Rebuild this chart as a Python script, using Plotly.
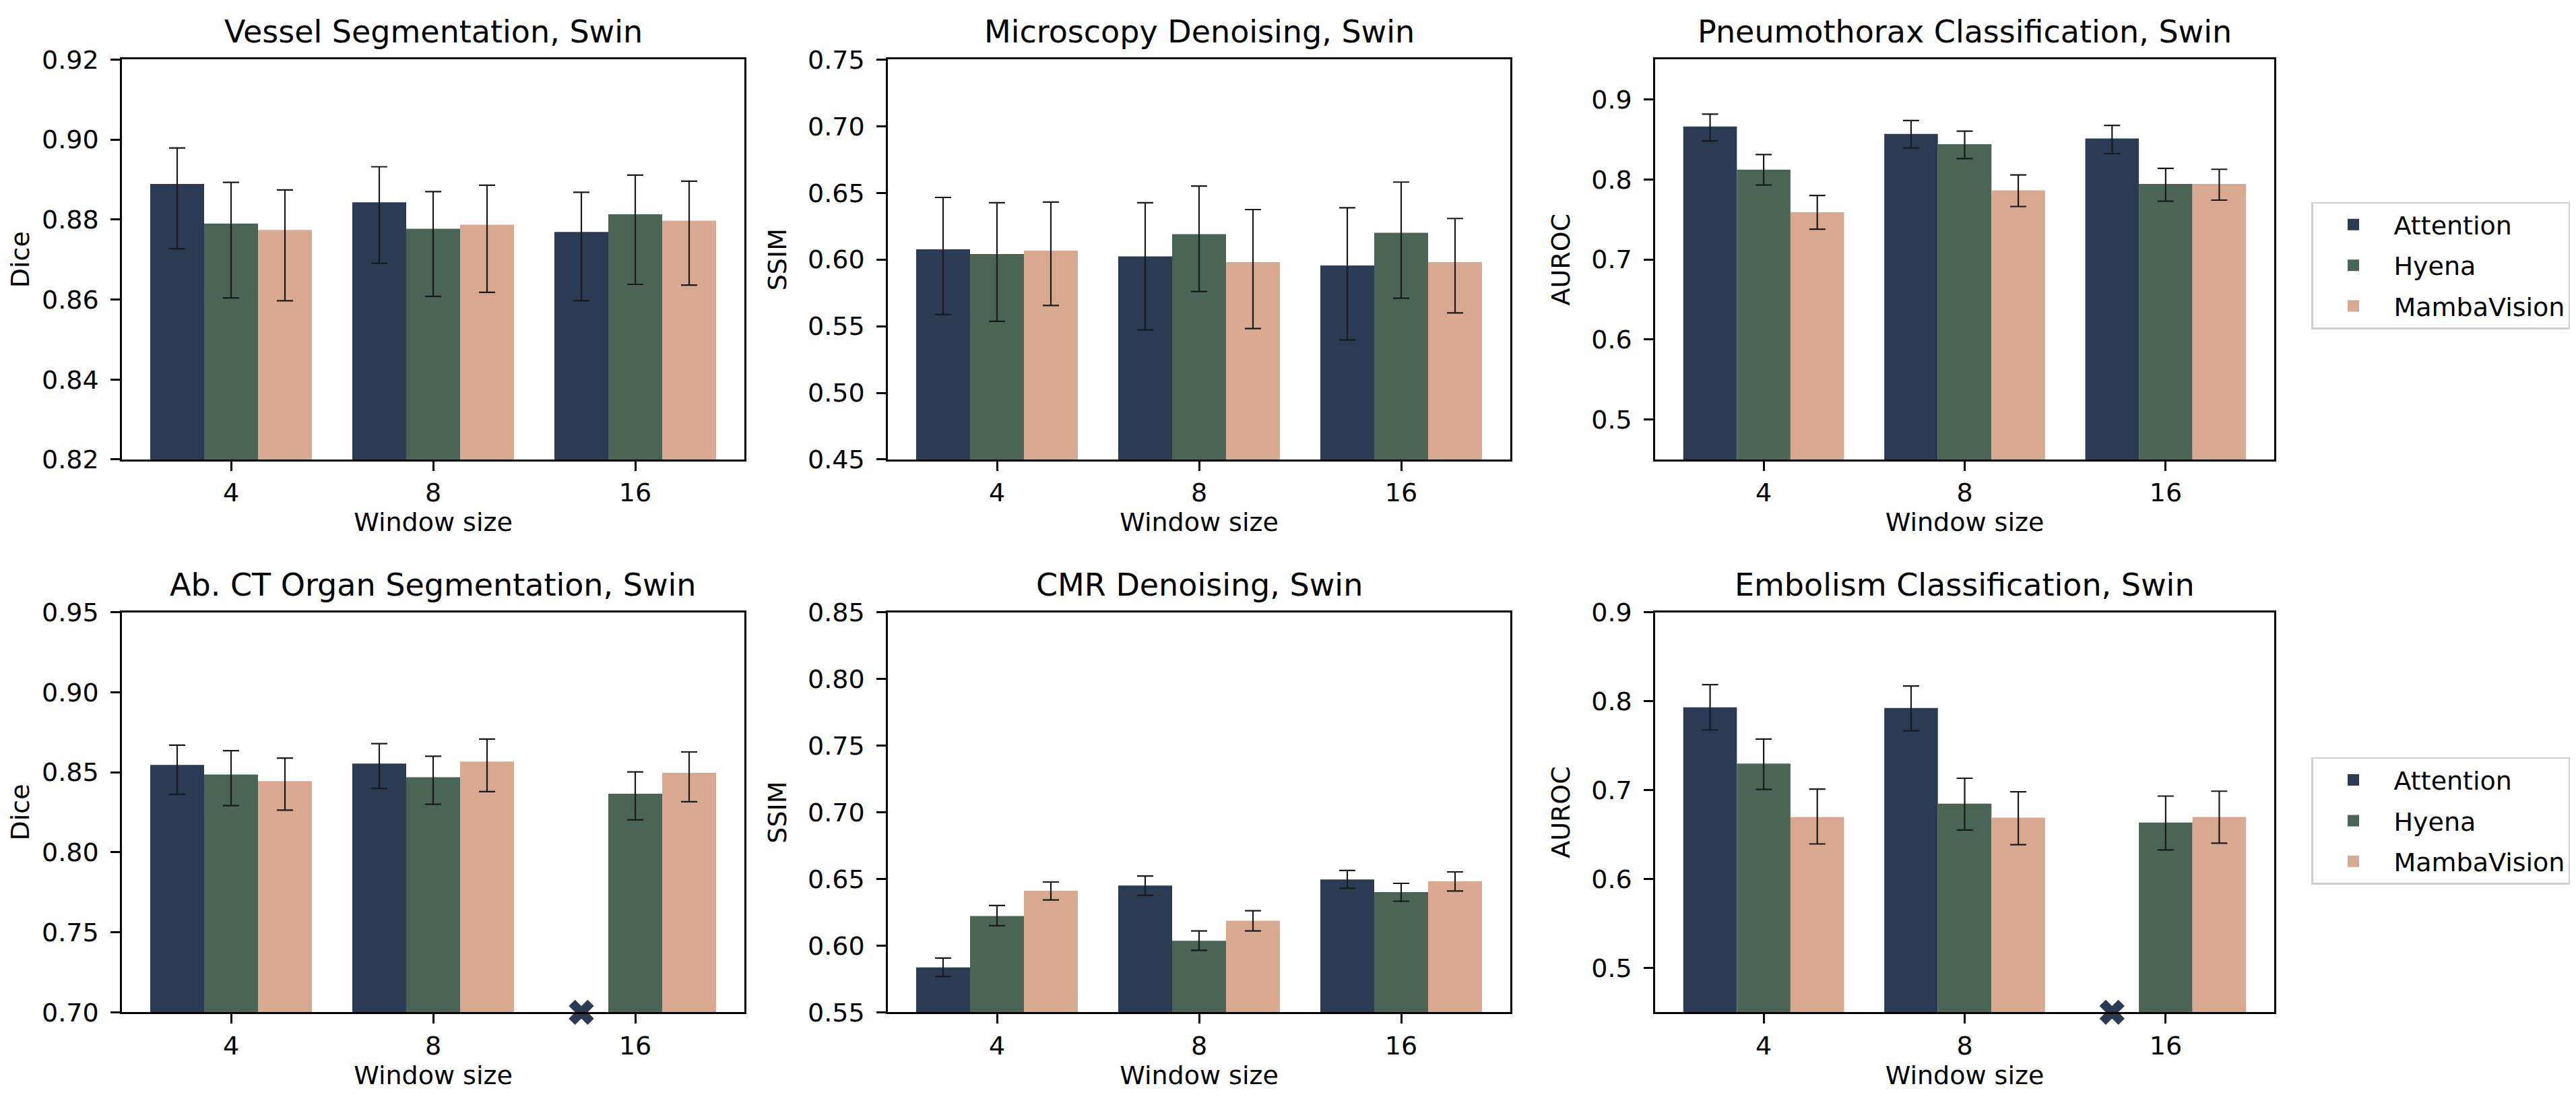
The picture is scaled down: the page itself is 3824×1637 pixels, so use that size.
import plotly.graph_objects as go

# ---------------- data ----------------
window_sizes = ["4", "8", "16"]
models = ["Attention", "Hyena", "MambaVision"]

panel_titles = [
    "Vessel Segmentation, Swin",
    "Microscopy Denoising, Swin",
    "Pneumothorax Classification, Swin",
    "Ab. CT Organ Segmentation, Swin",
    "CMR Denoising, Swin",
    "Embolism Classification, Swin",
]
y_titles = ["Dice", "SSIM", "AUROC", "Dice", "SSIM", "AUROC"]

# rows: Attention, Hyena, MambaVision; cols: window 4, 8, 16
vessel_mean = [[0.8889, 0.8843, 0.8769], [0.8790, 0.8777, 0.8813], [0.8774, 0.8787, 0.8797]]
vessel_lo = [[0.8727, 0.8691, 0.8597], [0.8604, 0.8608, 0.8638], [0.8597, 0.8618, 0.8636]]
vessel_hi = [[0.8979, 0.8932, 0.8868], [0.8893, 0.8870, 0.8911], [0.8874, 0.8886, 0.8896]]

micro_mean = [[0.6077, 0.6024, 0.5956], [0.6041, 0.6190, 0.6200], [0.6067, 0.5981, 0.5981]]
micro_lo = [[0.5587, 0.5472, 0.5396], [0.5537, 0.5760, 0.5710], [0.5655, 0.5482, 0.5600]]
micro_hi = [[0.6466, 0.6426, 0.6388], [0.6426, 0.6551, 0.6581], [0.6431, 0.6375, 0.6308]]

pneumo_mean = [[0.8663, 0.8571, 0.8513], [0.8123, 0.8441, 0.7944], [0.7592, 0.7864, 0.7944]]
pneumo_lo = [[0.8483, 0.8395, 0.8324], [0.7931, 0.8262, 0.7730], [0.7379, 0.7663, 0.7743]]
pneumo_hi = [[0.8818, 0.8738, 0.8676], [0.8312, 0.8605, 0.8140], [0.7801, 0.8057, 0.8128]]

abct_mean = [[0.8546, 0.8554, None], [0.8486, 0.8469, 0.8366], [0.8445, 0.8567, 0.8497]]
abct_lo = [[0.8362, 0.8399, None], [0.8292, 0.8300, 0.8202], [0.8263, 0.8379, 0.8316]]
abct_hi = [[0.8670, 0.8679, None], [0.8635, 0.8600, 0.8502], [0.8589, 0.8708, 0.8627]]

cmr_mean = [[0.5836, 0.6451, 0.6496], [0.6222, 0.6036, 0.6401], [0.6412, 0.6186, 0.6482]]
cmr_lo = [[0.5768, 0.6377, 0.6430], [0.6149, 0.5965, 0.6333], [0.6343, 0.6110, 0.6409]]
cmr_hi = [[0.5907, 0.6522, 0.6564], [0.6301, 0.6110, 0.6467], [0.6477, 0.6262, 0.6553]]

embol_mean = [[0.7931, 0.7923, None], [0.7298, 0.6846, 0.6634], [0.6697, 0.6689, 0.6697]]
embol_lo = [[0.7675, 0.7667, None], [0.7007, 0.6551, 0.6327], [0.6394, 0.6386, 0.6402]]
embol_hi = [[0.8186, 0.8171, None], [0.7573, 0.7133, 0.6932], [0.7011, 0.6980, 0.6987]]

y_ranges = [[0.82, 0.92], [0.45, 0.75], [0.45, 0.95], [0.70, 0.95], [0.55, 0.85], [0.45, 0.90]]
y_dticks = [0.02, 0.05, 0.1, 0.05, 0.05, 0.1]
y_formats = [".2f", ".2f", ".1f", ".2f", ".2f", ".1f"]

# runs that failed (marked with an X at the bottom of the axis)
missing_panels = [3, 5]          # Ab. CT and Embolism panels
missing_model = "Attention"
missing_window = "16"

# ---------------- style ----------------
colors = ["#2b3b54", "#4a6556", "#d9a891"]
FONT = "DejaVu Sans"
TICK_FS = 38
TITLE_FS = 46
W, H = 3824, 1637

x_domains = [[173 / W, 1097 / W], [1310 / W, 2234 / W], [2449 / W, 3368 / W]]
y_domains = [[1 - 670 / H, 1 - 60 / H], [1 - 1513 / H, 1 - 903 / H]]

means = [vessel_mean, micro_mean, pneumo_mean, abct_mean, cmr_mean, embol_mean]
los = [vessel_lo, micro_lo, pneumo_lo, abct_lo, cmr_lo, embol_lo]
his = [vessel_hi, micro_hi, pneumo_hi, abct_hi, cmr_hi, embol_hi]

fig = go.Figure()

for p in range(6):
    ax = "" if p == 0 else str(p + 1)
    for m, name in enumerate(models):
        mu = means[p][m]
        plus = [None if v is None else h - v for v, h in zip(mu, his[p][m])]
        minus = [None if v is None else v - l for v, l in zip(mu, los[p][m])]
        fig.add_trace(go.Bar(
            x=window_sizes, y=mu, name=name,
            marker=dict(color=colors[m], line=dict(width=0)),
            error_y=dict(type="data", array=plus, arrayminus=minus, symmetric=False,
                         color="#1a1a1a", thickness=2.2, width=12),
            xaxis="x" + ax, yaxis="y" + ax,
            offsetgroup=name, legendgroup=name,
            showlegend=False,
        ))
    # legend-only entries (one legend per row, beside the right-hand panel)
    if p in (2, 5):
        for m, name in enumerate(models):
            fig.add_trace(go.Bar(
                x=[None], y=[None], name=name,
                marker=dict(color=colors[m], line=dict(width=5, color=colors[m])),
                xaxis="x" + ax, yaxis="y" + ax,
                offsetgroup=name, legendgroup=name,
                showlegend=True, legend="legend" if p == 2 else "legend2",
                hoverinfo="skip",
            ))
    if p in missing_panels:
        for m, name in enumerate(models):
            is_missing = name == missing_model
            fig.add_trace(go.Scatter(
                x=[missing_window],
                y=[y_ranges[p][0] if is_missing else None],
                mode="markers", offsetgroup=name,
                marker=dict(symbol="x", size=33, color=colors[0], line=dict(width=0)),
                cliponaxis=False, showlegend=False, hoverinfo="skip",
                xaxis="x" + ax, yaxis="y" + ax,
            ))

layout = dict(
    width=W, height=H,
    margin=dict(l=0, r=0, t=0, b=0),
    paper_bgcolor="white", plot_bgcolor="white",
    font=dict(family=FONT, size=TICK_FS, color="black"),
    barmode="group", bargap=0.2, bargroupgap=0.0,
    scattermode="group", scattergap=0.2,
    annotations=[],
)

for p in range(6):
    ax = "" if p == 0 else str(p + 1)
    row, col = divmod(p, 3)
    xd = x_domains[col]
    yd = y_domains[row]
    layout["xaxis" + ax] = dict(
        domain=xd, anchor="y" + ax, type="category",
        range=[-0.54, 2.54],
        showline=True, mirror=True, linecolor="black", linewidth=2.5,
        ticks="outside", ticklen=14, tickwidth=2.5, tickcolor="black",
        showgrid=False, zeroline=False,
        tickfont=dict(size=TICK_FS, family=FONT, color="black"),
        title=dict(text="Window size", font=dict(size=TICK_FS, family=FONT, color="black"),
                   standoff=10),
    )
    layout["yaxis" + ax] = dict(
        domain=yd, anchor="x" + ax,
        range=y_ranges[p], tick0=0, dtick=y_dticks[p], tickformat=y_formats[p],
        showline=True, mirror=True, linecolor="black", linewidth=2.5,
        ticks="outside", ticklen=14, tickwidth=2.5, tickcolor="black",
        showgrid=False, zeroline=False,
        ticklabelstandoff=10,
        tickfont=dict(size=TICK_FS, family=FONT, color="black"),
        title=dict(text=y_titles[p], font=dict(size=TICK_FS, family=FONT, color="black"),
                   standoff=20),
    )
    layout["annotations"].append(dict(
        text=panel_titles[p], x=(xd[0] + xd[1]) / 2, y=yd[1],
        xref="paper", yref="paper", xanchor="center", yanchor="bottom",
        yshift=12, showarrow=False,
        font=dict(size=TITLE_FS, family=FONT, color="black"),
    ))

legend_style = dict(
    font=dict(size=TICK_FS, family=FONT, color="black"),
    bgcolor="white", bordercolor="#cfcfcf", borderwidth=2.5,
    xanchor="left", yanchor="top", itemwidth=110,
    tracegroupgap=8, itemclick=False, itemdoubleclick=False,
)
layout["legend"] = dict(x=3423 / W, y=1 - 277 / H, **legend_style)
layout["legend2"] = dict(x=3423 / W, y=1 - 1124 / H, **legend_style)

fig.update_layout(**layout)
fig.write_html("out.html")
